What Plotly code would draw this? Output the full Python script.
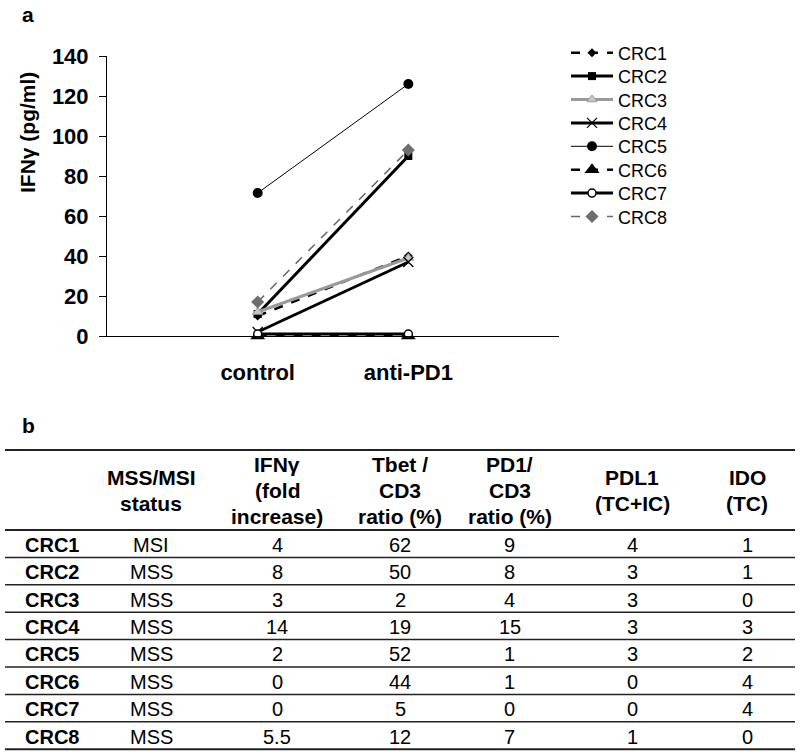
import plotly.graph_objects as go

W, H = 800, 755
FONT = "Liberation Sans, Arial, sans-serif"

# panel a: IFNg secretion
conditions = ["control", "anti-PD1"]
samples = ["CRC1", "CRC2", "CRC3", "CRC4", "CRC5", "CRC6", "CRC7", "CRC8"]
ifng_control = [10, 11, 12, 2, 71.5, 0, 1, 17]
ifng_antipd1 = [40, 90, 39, 37, 126, 0, 1, 93]
y_ticks = [0, 20, 40, 60, 80, 100, 120, 140]

# panel b: table
table_headers = ["", "MSS/MSI<br>status", "IFNγ<br>(fold<br>increase)",
                 "Tbet /<br>CD3<br>ratio (%)", "PD1/<br>CD3<br>ratio (%)",
                 "PDL1<br>(TC+IC)", "IDO<br>(TC)"]
status = ["MSI", "MSS", "MSS", "MSS", "MSS", "MSS", "MSS", "MSS"]
fold_increase = ["4", "8", "3", "14", "2", "0", "0", "5.5"]
tbet_cd3 = ["62", "50", "2", "19", "52", "44", "5", "12"]
pd1_cd3 = ["9", "8", "4", "15", "1", "1", "0", "7"]
pdl1 = ["4", "3", "3", "3", "3", "0", "0", "1"]
ido = ["1", "1", "0", "3", "2", "4", "4", "0"]

# line / marker style per sample
styles = {
    "CRC1": dict(line=dict(color="black", width=2.5, dash="dash"),
                 marker=dict(symbol="diamond", size=7, color="black")),
    "CRC2": dict(line=dict(color="black", width=3),
                 marker=dict(symbol="square", size=8, color="black")),
    "CRC3": dict(line=dict(color="#9a9a9a", width=3),
                 marker=dict(symbol="triangle-up", size=9, color="#c8c8c8",
                             line=dict(color="#9a9a9a", width=1))),
    "CRC4": dict(line=dict(color="black", width=3),
                 marker=dict(symbol="x-thin", size=10,
                             line=dict(color="black", width=1.2))),
    "CRC5": dict(line=dict(color="black", width=1),
                 marker=dict(symbol="circle", size=10, color="black")),
    "CRC6": dict(line=dict(color="black", width=2.5, dash="dash"),
                 marker=dict(symbol="triangle-up", size=13, color="black")),
    "CRC7": dict(line=dict(color="black", width=3),
                 marker=dict(symbol="circle", size=8, color="white",
                             line=dict(color="black", width=1.5))),
    "CRC8": dict(line=dict(color="#666666", width=1.5, dash="dash"),
                 marker=dict(symbol="diamond", size=10, color="#6e6e6e")),
}


def px(x):
    return x / W


def py(y):
    return 1 - y / H


def note(x, y, text, size, anchor="center", **kw):
    return dict(x=px(x), y=py(y), xref="paper", yref="paper", text=text,
                showarrow=False, xanchor=anchor, yanchor="middle",
                font=dict(size=size), **kw)


def hline(y, width):
    return dict(type="line", xref="paper", yref="paper",
                x0=px(tbl_left), x1=px(tbl_right), y0=py(y), y1=py(y),
                line=dict(color="#222", width=width))


fig = go.Figure()

# one small legend per sample so the row spacing can match
legend_top = 53
legend_gap = 23.4
legends = {}
for i, s in enumerate(samples):
    key = "legend" if i == 0 else f"legend{i + 1}"
    fig.add_trace(go.Scatter(x=conditions,
                             y=[ifng_control[i], ifng_antipd1[i]],
                             name=s,
                             mode="lines+markers",
                             cliponaxis=False,
                             legend=key,
                             **styles[s]))
    legends[key] = dict(x=px(566), y=py(legend_top + i * legend_gap),
                        xanchor="left", yanchor="middle",
                        font=dict(size=18), itemwidth=42,
                        bgcolor="rgba(0,0,0,0)")

annotations = []
shapes = []

# panel letters
annotations.append(note(20, 15, "<b>a</b>", 21, "left"))
annotations.append(note(20, 425, "<b>b</b>", 21, "left"))

# y title
annotations.append(note(27, 133, "<b>IFNγ (pg/ml)</b>", 21, textangle=-90))

# table geometry
tbl_left, tbl_right = 5, 795
tbl_top, head_bot = 450, 530
row_h = 27.4
col_x = [23, 151, 277, 400, 510, 632, 747]
head_mid = (tbl_top + head_bot) / 2
line_gap = 26

shapes.append(hline(tbl_top, 2))
shapes.append(hline(head_bot, 2))

for c, head in enumerate(table_headers):
    if not head:
        continue
    parts = head.split("<br>")
    n = len(parts)
    for k, p in enumerate(parts):
        yy = head_mid + (k - (n - 1) / 2) * line_gap
        annotations.append(note(col_x[c], yy, f"<b>{p}</b>", 21))

columns = [status, fold_increase, tbet_cd3, pd1_cd3, pdl1, ido]
for r, s in enumerate(samples):
    y_mid = head_bot + (r + 0.5) * row_h + 1
    y_line = head_bot + (r + 1) * row_h
    shapes.append(hline(y_line, 2 if r == len(samples) - 1 else 1.5))
    annotations.append(note(col_x[0], y_mid, f"<b>{s}</b>", 20, "left"))
    for c, col in enumerate(columns):
        annotations.append(note(col_x[c + 1], y_mid, col[r], 20))

fig.update_layout(
    width=W, height=H,
    margin=dict(l=0, r=0, t=0, b=0),
    paper_bgcolor="white",
    plot_bgcolor="white",
    font=dict(family=FONT, color="black"),
    showlegend=True,
    xaxis=dict(domain=[px(107), px(559)], type="category",
               range=[-1, 2], showline=True, linecolor="black", linewidth=1,
               ticks="", showgrid=False, zeroline=False, automargin=False,
               tickfont=dict(size=22, weight="bold"), ticklabelstandoff=17,
               fixedrange=True),
    yaxis=dict(domain=[py(336), py(56)], range=[0, 140], tickvals=y_ticks,
               showline=True, linecolor="black", linewidth=1,
               ticks="outside", ticklen=7, tickcolor="black",
               showgrid=False, zeroline=False, automargin=False,
               tickfont=dict(size=22, weight="bold"), ticklabelstandoff=6,
               fixedrange=True),
    annotations=annotations,
    shapes=shapes,
    **legends,
)

fig.write_html("out.html", config={"displayModeBar": False},
               post_script="document.body.style.margin='0';")
